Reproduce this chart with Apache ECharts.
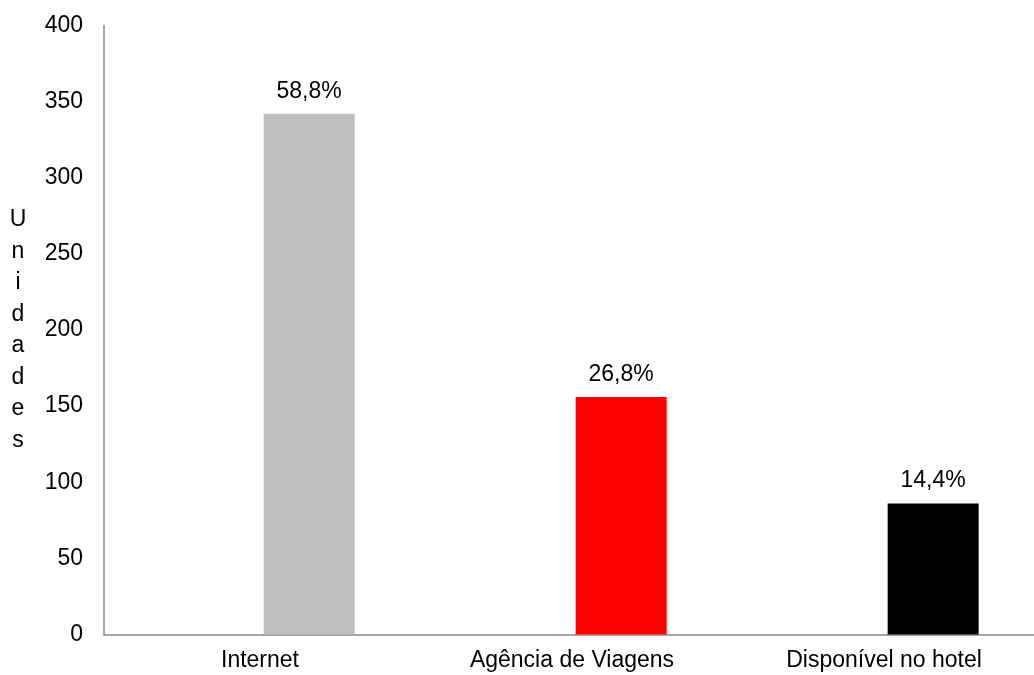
<!DOCTYPE html>
<html>
<head>
<meta charset="utf-8">
<script src="https://cdn.jsdelivr.net/npm/echarts@6/dist/echarts.min.js"></script>
<style>
html,body{margin:0;padding:0;background:#fff;overflow:hidden;}
/* o eixo do original passa um pouco da borda direita */
#main{width:1040px;height:675px;}
</style>
</head>
<body>
<div id="main"></div>
<script>
// dados do grafico
var categorias = ['Internet', 'Agência de Viagens', 'Disponível no hotel'];
var unidades = [342, 156, 86];
var percentuais = ['58,8%', '26,8%', '14,4%'];
var cores = ['#BFBFBF', '#FF0000', '#000000'];
var vazio = [null, null, null]; // serie vazia, so para deslocar as barras como no original
var yTicks = {min: 0, max: 400, interval: 50};

var fonte = '"Liberation Sans", Arial, sans-serif';

var myChart = echarts.init(document.getElementById('main'));

var option = {
	backgroundColor: '#fff',
	animation: false,
	grid: {
		left: 104,
		right: 0,
		top: 25.5,
		bottom: 40.5,
		containLabel: false
	},
	xAxis: {
		type: 'category',
		data: categorias,
		axisLine: {
			show: true,
			lineStyle: {color: '#888', width: 1.5}
		},
		axisTick: {show: false},
		axisLabel: {
			color: '#000',
			fontFamily: fonte,
			fontSize: 23,
			margin: 15,
			interval: 0
		}
	},
	yAxis: {
		type: 'value',
		min: yTicks.min,
		max: yTicks.max,
		interval: yTicks.interval,
		name: 'Unidades'.split('').join('\n'),
		nameLocation: 'middle',
		nameRotate: 0,
		nameGap: 86,
		nameTextStyle: {
			color: '#000',
			fontFamily: fonte,
			fontSize: 23,
			lineHeight: 31.5,
			align: 'center',
			verticalAlign: 'middle'
		},
		axisLine: {
			show: true,
			lineStyle: {color: '#888', width: 1.5}
		},
		axisTick: {show: false},
		splitLine: {show: false},
		axisLabel: {
			color: '#000',
			fontFamily: fonte,
			fontSize: 23,
			margin: 21
		}
	},
	series: [
		{
			name: '',
			type: 'bar',
			data: vazio,
			barWidth: 91,
			barGap: '8%'
		},
		{
			name: 'Unidades',
			type: 'bar',
			barWidth: 91,
			barGap: '8%',
			data: unidades.map(function(v, i){
				return {value: v, itemStyle: {color: cores[i]}};
			}),
			label: {
				show: true,
				position: 'top',
				distance: 11,
				color: '#000',
				fontFamily: fonte,
				fontSize: 23,
				formatter: function(p){
					return percentuais[p.dataIndex];
				}
			}
		}
	]
};

myChart.setOption(option);
</script>
</body>
</html>
